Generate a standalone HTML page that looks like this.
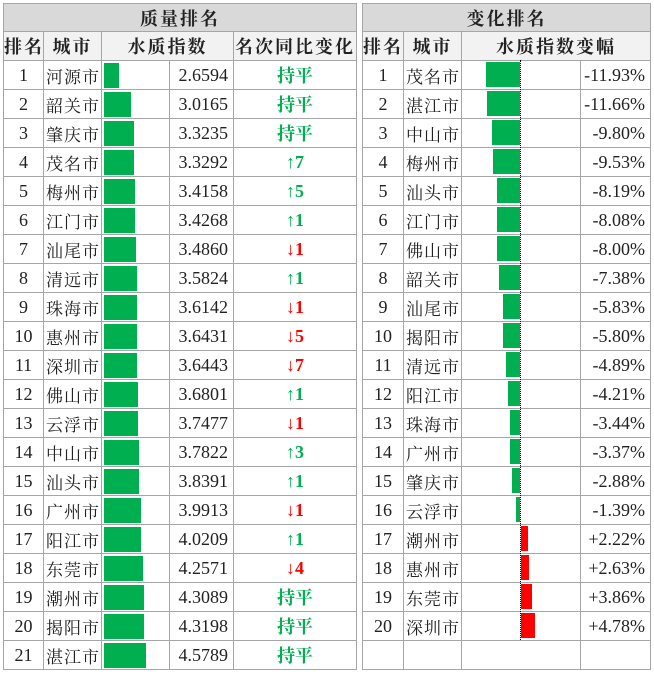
<!DOCTYPE html>
<html><head><meta charset="utf-8"><style>
body{margin:0;width:654px;height:674px;background:#fff;position:relative;overflow:hidden;font-family:"Liberation Serif","Noto Serif CJK SC",serif;}
table{position:absolute;border-collapse:collapse;table-layout:fixed;}
td{border:1px solid #a6a6a6;height:28px;padding:0;font-size:18px;color:#222;text-align:center;white-space:nowrap;position:relative;overflow:hidden;}
tr.t td{background:#d9d9d9;font-weight:bold;height:27px;letter-spacing:2px;}
tr.h td{background:#f2f2f2;font-weight:bold;letter-spacing:2px;}
td.c{letter-spacing:1px;text-align:left;padding-left:2px;font-size:17px;}
td.v{text-align:right;padding-right:5px;}
.b{position:absolute;top:2px;height:25px;background:#00b050;left:2px;}
.g{color:#00b050;font-weight:bold;}
.d{color:#ff0000;font-weight:bold;}
.ar{font-weight:normal;}
#L{left:3px;top:3px;width:353px;}
#R{left:362px;top:3px;width:288px;}
.ax{position:absolute;left:520px;top:60px;height:580px;border-left:1px dotted #000;}
.rb{position:absolute;height:25px;}
</style></head><body>
<table id="L">
<colgroup><col style="width:40px"><col style="width:58px"><col style="width:68px"><col style="width:64px"><col style="width:123px"></colgroup>
<tr class="t"><td colspan="5">质量排名</td></tr>
<tr class="h"><td>排名</td><td>城市</td><td colspan="2">水质指数</td><td>名次同比变化</td></tr>
<tr><td>1</td><td class="c">河源市</td><td><div class="b" style="width:15px"></div></td><td class="v">2.6594</td><td class="g">持平</td></tr>
<tr><td>2</td><td class="c">韶关市</td><td><div class="b" style="width:27px"></div></td><td class="v">3.0165</td><td class="g">持平</td></tr>
<tr><td>3</td><td class="c">肇庆市</td><td><div class="b" style="width:30px"></div></td><td class="v">3.3235</td><td class="g">持平</td></tr>
<tr><td>4</td><td class="c">茂名市</td><td><div class="b" style="width:30px"></div></td><td class="v">3.3292</td><td class="g"><span class="ar">↑</span>7</td></tr>
<tr><td>5</td><td class="c">梅州市</td><td><div class="b" style="width:31px"></div></td><td class="v">3.4158</td><td class="g"><span class="ar">↑</span>5</td></tr>
<tr><td>6</td><td class="c">江门市</td><td><div class="b" style="width:31px"></div></td><td class="v">3.4268</td><td class="g"><span class="ar">↑</span>1</td></tr>
<tr><td>7</td><td class="c">汕尾市</td><td><div class="b" style="width:32px"></div></td><td class="v">3.4860</td><td class="d"><span class="ar">↓</span>1</td></tr>
<tr><td>8</td><td class="c">清远市</td><td><div class="b" style="width:33px"></div></td><td class="v">3.5824</td><td class="g"><span class="ar">↑</span>1</td></tr>
<tr><td>9</td><td class="c">珠海市</td><td><div class="b" style="width:33px"></div></td><td class="v">3.6142</td><td class="d"><span class="ar">↓</span>1</td></tr>
<tr><td>10</td><td class="c">惠州市</td><td><div class="b" style="width:33px"></div></td><td class="v">3.6431</td><td class="d"><span class="ar">↓</span>5</td></tr>
<tr><td>11</td><td class="c">深圳市</td><td><div class="b" style="width:33px"></div></td><td class="v">3.6443</td><td class="d"><span class="ar">↓</span>7</td></tr>
<tr><td>12</td><td class="c">佛山市</td><td><div class="b" style="width:34px"></div></td><td class="v">3.6801</td><td class="g"><span class="ar">↑</span>1</td></tr>
<tr><td>13</td><td class="c">云浮市</td><td><div class="b" style="width:34px"></div></td><td class="v">3.7477</td><td class="d"><span class="ar">↓</span>1</td></tr>
<tr><td>14</td><td class="c">中山市</td><td><div class="b" style="width:35px"></div></td><td class="v">3.7822</td><td class="g"><span class="ar">↑</span>3</td></tr>
<tr><td>15</td><td class="c">汕头市</td><td><div class="b" style="width:35px"></div></td><td class="v">3.8391</td><td class="g"><span class="ar">↑</span>1</td></tr>
<tr><td>16</td><td class="c">广州市</td><td><div class="b" style="width:37px"></div></td><td class="v">3.9913</td><td class="d"><span class="ar">↓</span>1</td></tr>
<tr><td>17</td><td class="c">阳江市</td><td><div class="b" style="width:37px"></div></td><td class="v">4.0209</td><td class="g"><span class="ar">↑</span>1</td></tr>
<tr><td>18</td><td class="c">东莞市</td><td><div class="b" style="width:39px"></div></td><td class="v">4.2571</td><td class="d"><span class="ar">↓</span>4</td></tr>
<tr><td>19</td><td class="c">潮州市</td><td><div class="b" style="width:40px"></div></td><td class="v">4.3089</td><td class="g">持平</td></tr>
<tr><td>20</td><td class="c">揭阳市</td><td><div class="b" style="width:40px"></div></td><td class="v">4.3198</td><td class="g">持平</td></tr>
<tr><td>21</td><td class="c">湛江市</td><td><div class="b" style="width:42px"></div></td><td class="v">4.5789</td><td class="g">持平</td></tr>
</table>
<table id="R">
<colgroup><col style="width:41px"><col style="width:58px"><col style="width:119px"><col style="width:70px"></colgroup>
<tr class="t"><td colspan="4">变化排名</td></tr>
<tr class="h"><td>排名</td><td>城市</td><td colspan="2">水质指数变幅</td></tr>
<tr><td>1</td><td class="c">茂名市</td><td></td><td class="v">-11.93%</td></tr>
<tr><td>2</td><td class="c">湛江市</td><td></td><td class="v">-11.66%</td></tr>
<tr><td>3</td><td class="c">中山市</td><td></td><td class="v">-9.80%</td></tr>
<tr><td>4</td><td class="c">梅州市</td><td></td><td class="v">-9.53%</td></tr>
<tr><td>5</td><td class="c">汕头市</td><td></td><td class="v">-8.19%</td></tr>
<tr><td>6</td><td class="c">江门市</td><td></td><td class="v">-8.08%</td></tr>
<tr><td>7</td><td class="c">佛山市</td><td></td><td class="v">-8.00%</td></tr>
<tr><td>8</td><td class="c">韶关市</td><td></td><td class="v">-7.38%</td></tr>
<tr><td>9</td><td class="c">汕尾市</td><td></td><td class="v">-5.83%</td></tr>
<tr><td>10</td><td class="c">揭阳市</td><td></td><td class="v">-5.80%</td></tr>
<tr><td>11</td><td class="c">清远市</td><td></td><td class="v">-4.89%</td></tr>
<tr><td>12</td><td class="c">阳江市</td><td></td><td class="v">-4.21%</td></tr>
<tr><td>13</td><td class="c">珠海市</td><td></td><td class="v">-3.44%</td></tr>
<tr><td>14</td><td class="c">广州市</td><td></td><td class="v">-3.37%</td></tr>
<tr><td>15</td><td class="c">肇庆市</td><td></td><td class="v">-2.88%</td></tr>
<tr><td>16</td><td class="c">云浮市</td><td></td><td class="v">-1.39%</td></tr>
<tr><td>17</td><td class="c">潮州市</td><td></td><td class="v">+2.22%</td></tr>
<tr><td>18</td><td class="c">惠州市</td><td></td><td class="v">+2.63%</td></tr>
<tr><td>19</td><td class="c">东莞市</td><td></td><td class="v">+3.86%</td></tr>
<tr><td>20</td><td class="c">深圳市</td><td></td><td class="v">+4.78%</td></tr>
<tr><td></td><td></td><td></td><td></td></tr>
</table>
<div class="rb" style="background:#00b050;top:62px;left:486px;width:34px"></div>
<div class="rb" style="background:#00b050;top:91px;left:487px;width:33px"></div>
<div class="rb" style="background:#00b050;top:120px;left:492px;width:28px"></div>
<div class="rb" style="background:#00b050;top:149px;left:493px;width:27px"></div>
<div class="rb" style="background:#00b050;top:178px;left:497px;width:23px"></div>
<div class="rb" style="background:#00b050;top:207px;left:497px;width:23px"></div>
<div class="rb" style="background:#00b050;top:236px;left:497px;width:23px"></div>
<div class="rb" style="background:#00b050;top:265px;left:499px;width:21px"></div>
<div class="rb" style="background:#00b050;top:294px;left:503px;width:17px"></div>
<div class="rb" style="background:#00b050;top:323px;left:503px;width:17px"></div>
<div class="rb" style="background:#00b050;top:352px;left:506px;width:14px"></div>
<div class="rb" style="background:#00b050;top:381px;left:508px;width:12px"></div>
<div class="rb" style="background:#00b050;top:410px;left:510px;width:10px"></div>
<div class="rb" style="background:#00b050;top:439px;left:510px;width:10px"></div>
<div class="rb" style="background:#00b050;top:468px;left:512px;width:8px"></div>
<div class="rb" style="background:#00b050;top:497px;left:516px;width:4px"></div>
<div class="rb" style="background:#ff0000;top:526px;left:521px;width:7px"></div>
<div class="rb" style="background:#ff0000;top:555px;left:521px;width:8px"></div>
<div class="rb" style="background:#ff0000;top:584px;left:521px;width:11px"></div>
<div class="rb" style="background:#ff0000;top:613px;left:521px;width:14px"></div>
<div class="ax"></div>
</body></html>
